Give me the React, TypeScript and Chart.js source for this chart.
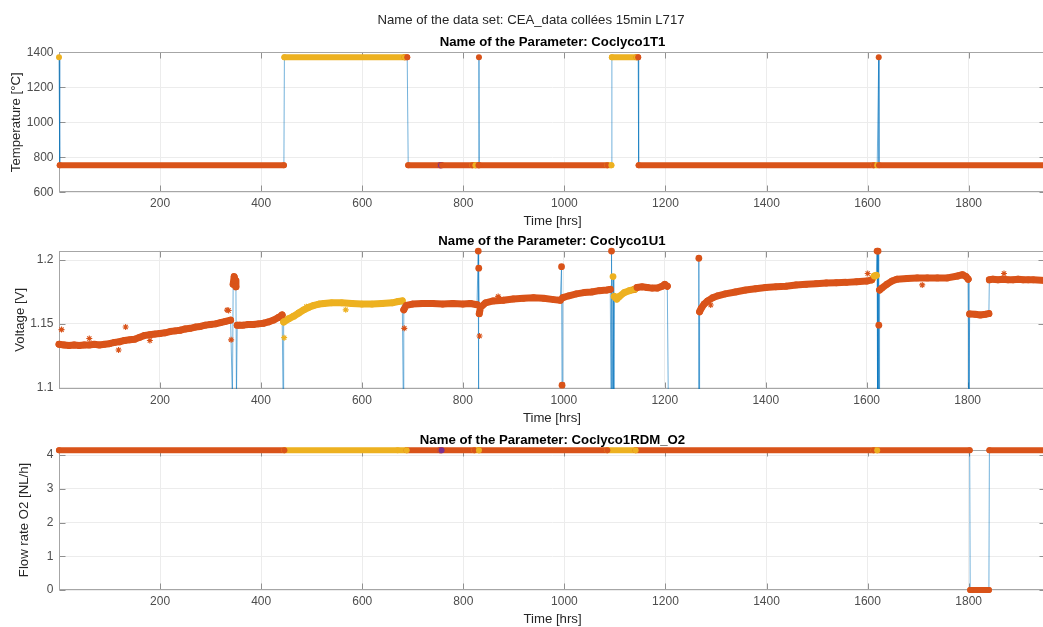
import React, { useEffect, useRef } from "react";
import { Chart, registerables } from "chart.js";

Chart.register(...registerables);

// ---------- look ----------
const FONT_FAMILY = '"Liberation Sans", Arial, Helvetica, sans-serif';
const PHASE_COLORS = ["#D95319", "#EDB120", "#7E2F8E"]; // 0 = run, 1 = hot phase, 2 = event
const TRACE_COLOR = "rgba(0, 114, 189, 0.55)";
const GRID_COLOR = "#ececec";
const BOX_COLOR = "#a6a6a6";
const TICK_MARK_COLOR = "#909090";
const TICK_TEXT_COLOR = "#4d4d4d";
const CANVAS_WIDTH = 1050;

// ---------- shared ----------
const DATASET_TITLE = "Name of the data set: CEA_data collées 15min L717";
const TIME_LABEL = "Time [hrs]";
const TIME_MIN = 0;
const TIME_MAX = 1953;
const TIME_TICKS = [200, 400, 600, 800, 1000, 1200, 1400, 1600, 1800];

// ---------- Coclyco1T1 : temperature ----------
const TEMP_TIME = [0, 1.5, 445, 446, 684, 689, 691, 754, 756, 758, 818, 824, 830, 831, 831.5, 1085, 1093, 1094, 1143, 1146, 1147, 1612, 1619, 1622, 1622.5, 1953];
const TEMP_VALUE = [1372, 755, 755, 1372, 1372, 1372, 755, 755, 755, 755, 755, 755, 755, 1372, 755, 755, 755, 1372, 1372, 1372, 755, 755, 755, 1372, 755, 755];
const TEMP_PHASE = [1, 0, 0, 1, 1, 0, 0, 0, 2, 0, 0, 1, 0, 0, 0, 0, 1, 1, 1, 0, 0, 0, 1, 0, 0, 0];
const TEMP_RANGE = [600, 1400];
const TEMP_TICKS = [600, 800, 1000, 1200, 1400];

// ---------- Coclyco1U1 : cell voltage (1.09 = reading below the visible range) ----------
const VOLT_TIME = [
  0, 10, 20, 30, 40, 50, 60, 70, 80, 90,
  100, 110, 120, 130, 140, 150, 160, 170, 180, 190,
  200, 210, 220, 230, 240, 250, 260, 270, 280, 290,
  300, 310, 320, 330, 340, 343.5, 345, 347, 349, 350.5,
  351.5, 353, 358, 365, 375, 385, 395, 405, 415, 425,
  435, 442, 444, 445, 455, 465, 475, 485, 495, 505,
  515, 525, 540, 560, 580, 600, 620, 640, 660, 672,
  680, 682, 683, 688, 700, 720, 740, 760, 780, 800,
  815, 828, 830.5, 831, 831.5, 832.5, 835, 845, 860, 880,
  900, 920, 940, 960, 980, 993, 995.5, 996.5, 998, 1010,
  1025, 1040, 1055, 1070, 1085, 1092, 1093.5, 1094.5, 1096, 1097.5,
  1099, 1100, 1105, 1110, 1120, 1130, 1140, 1145, 1155, 1165,
  1175, 1185, 1195, 1200, 1205, 1207, 1267, 1267.5, 1268, 1269,
  1272, 1278, 1285, 1295, 1305, 1320, 1340, 1360, 1380, 1400,
  1420, 1440, 1460, 1480, 1500, 1520, 1540, 1560, 1580, 1600,
  1610, 1615, 1619, 1620.5, 1621.5, 1622.5, 1623.5, 1624, 1624.5, 1625.5,
  1630, 1640, 1650, 1660, 1680, 1700, 1720, 1740, 1760, 1780,
  1790, 1797, 1801, 1802.5, 1804, 1815, 1825, 1835, 1842, 1843,
  1850, 1860, 1870, 1880, 1890, 1900, 1910, 1920, 1930, 1953,
];
const VOLT_VALUE = [
  1.134, 1.1335, 1.133, 1.1335, 1.133, 1.1335, 1.1335, 1.134, 1.1335, 1.134,
  1.1345, 1.1355, 1.136, 1.137, 1.1375, 1.138, 1.1395, 1.141, 1.1415, 1.142,
  1.1425, 1.143, 1.144, 1.1445, 1.145, 1.146, 1.1465, 1.1475, 1.148, 1.149,
  1.1495, 1.15, 1.151, 1.152, 1.153, 1.09, 1.181, 1.187, 1.184, 1.179,
  1.09, 1.149, 1.149, 1.149, 1.1495, 1.1495, 1.15, 1.1505, 1.1515, 1.153,
  1.155, 1.157, 1.09, 1.1515, 1.154, 1.156, 1.1585, 1.161, 1.163, 1.1645,
  1.1655, 1.166, 1.1665, 1.1665, 1.166, 1.1655, 1.1655, 1.166, 1.1665, 1.1675,
  1.168, 1.09, 1.161, 1.1645, 1.1655, 1.166, 1.166, 1.1655, 1.166, 1.1655,
  1.166, 1.165, 1.207, 1.09, 1.1936, 1.158, 1.163, 1.1665, 1.168, 1.1685,
  1.1695, 1.17, 1.1705, 1.17, 1.169, 1.1685, 1.1948, 1.102, 1.1705, 1.172,
  1.1735, 1.1745, 1.175, 1.176, 1.1765, 1.177, 1.09, 1.207, 1.09, 1.187,
  1.09, 1.1715, 1.1695, 1.1715, 1.1745, 1.176, 1.177, 1.1785, 1.179, 1.1785,
  1.178, 1.178, 1.1795, 1.181, 1.1795, 1.09, 1.09, 1.2014, 1.09, 1.1595,
  1.162, 1.1655, 1.168, 1.1705, 1.172, 1.1735, 1.175, 1.1765, 1.1775, 1.1785,
  1.179, 1.1795, 1.1805, 1.181, 1.1815, 1.182, 1.1822, 1.1825, 1.183, 1.1835,
  1.1845, 1.1875, 1.188, 1.207, 1.09, 1.207, 1.09, 1.149, 1.09, 1.1765,
  1.178, 1.181, 1.1835, 1.185, 1.1855, 1.186, 1.186, 1.186, 1.186, 1.1875,
  1.1885, 1.187, 1.185, 1.09, 1.1578, 1.1575, 1.157, 1.1575, 1.158, 1.1845,
  1.185, 1.1845, 1.185, 1.1845, 1.1845, 1.185, 1.1845, 1.1845, 1.1845, 1.184,
];
// time spans of the hot phase (drawn in the second colour)
const VOLT_HOT_SPANS = [[444.5, 681], [1097, 1142], [1612, 1620]];
const VOLT_OUTLIER_TIME = [5, 60, 118, 132, 180, 333, 336, 341, 446, 490, 568, 684, 833, 870, 1291, 1602, 1710, 1872];
const VOLT_OUTLIER_VALUE = [1.1455, 1.1385, 1.1295, 1.1475, 1.137, 1.1608, 1.1605, 1.1375, 1.1392, 1.1635, 1.161, 1.1465, 1.1405, 1.1715, 1.1648, 1.1895, 1.1805, 1.1895];
const VOLT_RANGE = [1.099, 1.2073];
const VOLT_TICKS = [1.1, 1.15, 1.2];

// ---------- Coclyco1RDM_O2 : oxygen flow ----------
const FLOW_TIME = [0, 446, 670, 688, 754, 757, 822, 831, 1085, 1141, 1612, 1619, 1802, 1803, 1840, 1841, 1953];
const FLOW_VALUE = [4.14, 4.14, 4.14, 4.14, 4.14, 4.14, 4.14, 4.14, 4.14, 4.14, 4.14, 4.14, 4.14, 0, 0, 4.14, 4.14];
const FLOW_PHASE = [0, 0, 1, 1, 0, 2, 0, 1, 0, 1, 0, 1, 0, 0, 0, 0, 0];
const FLOW_RANGE = [0, 4.15];
const FLOW_TICKS = [0, 1, 2, 3, 4];

const hotPhase = (t: number) => (VOLT_HOT_SPANS.some(([a, b]) => t >= a && t <= b) ? 1 : 0);

type PanelSpec = {
  title: string;
  yLabel: string;
  time: number[];
  value: number[];
  phase: number[];
  jump: number;
  outTime?: number[];
  outValue?: number[];
  outPhase?: number[];
  yRange: number[];
  yTicks: number[];
  top: number;
  height: number;
  areaTop: number;
  areaBottom: number;
  yLabelX: number;
  bandWidth: number;
  markerRadius: number;
  clip: any;
  suptitle?: string;
};

const PANELS: PanelSpec[] = [
  {
    title: "Name of the Parameter: Coclyco1T1",
    yLabel: "Temperature [°C]",
    time: TEMP_TIME,
    value: TEMP_VALUE,
    phase: TEMP_PHASE,
    jump: 50,
    yRange: TEMP_RANGE,
    yTicks: TEMP_TICKS,
    top: 0,
    height: 232,
    areaTop: 52.3,
    areaBottom: 192.3,
    yLabelX: 16.7,
    bandWidth: 6,
    markerRadius: 3,
    clip: false,
    suptitle: DATASET_TITLE,
  },
  {
    title: "Name of the Parameter: Coclyco1U1",
    yLabel: "Voltage [V]",
    time: VOLT_TIME,
    value: VOLT_VALUE,
    phase: VOLT_TIME.map(hotPhase),
    jump: 0.012,
    outTime: VOLT_OUTLIER_TIME,
    outValue: VOLT_OUTLIER_VALUE,
    outPhase: VOLT_OUTLIER_TIME.map(hotPhase),
    yRange: VOLT_RANGE,
    yTicks: VOLT_TICKS,
    top: 232,
    height: 198,
    areaTop: 18.7,
    areaBottom: 157,
    yLabelX: 20.5,
    bandWidth: 7,
    markerRadius: 3.4,
    clip: { left: 6, right: 6, top: 4, bottom: 0 },
  },
  {
    title: "Name of the Parameter: Coclyco1RDM_O2",
    yLabel: "Flow rate O2 [NL/h]",
    time: FLOW_TIME,
    value: FLOW_VALUE,
    phase: FLOW_PHASE,
    jump: 1,
    yRange: FLOW_RANGE,
    yTicks: FLOW_TICKS,
    top: 430,
    height: 197,
    areaTop: 20,
    areaBottom: 160,
    yLabelX: 24,
    bandWidth: 6,
    markerRadius: 3,
    clip: false,
  },
];

const X_AXIS_HEIGHT = 20;
const Y_AXIS_WIDTH = 59;
const TICK_LEN = 6;

function buildConfig(spec: PanelSpec): any {
  const pts = spec.time.map((t, i) => ({ x: t, y: spec.value[i] }));
  const colorAt = (i: number) => PHASE_COLORS[spec.phase[i]];
  const datasets: any[] = [
    {
      type: "line",
      data: pts,
      borderColor: TRACE_COLOR,
      borderWidth: 1,
      pointRadius: 0,
      order: 3,
      clip: spec.clip,
    },
    {
      type: "line",
      data: pts,
      borderWidth: spec.bandWidth,
      borderCapStyle: "round",
      borderJoinStyle: "round",
      pointRadius: spec.markerRadius,
      pointBorderWidth: 0,
      pointBackgroundColor: (c: any) => colorAt(c.dataIndex),
      segment: {
        borderColor: (c: any) =>
          Math.abs(spec.value[c.p1DataIndex] - spec.value[c.p0DataIndex]) > spec.jump
            ? "rgba(0,0,0,0)"
            : colorAt(c.p1DataIndex),
      },
      order: 2,
      clip: spec.clip,
    },
  ];
  if (spec.outTime && spec.outValue && spec.outPhase) {
    const op = spec.outPhase;
    datasets.push({
      type: "line",
      showLine: false,
      data: spec.outTime.map((t, i) => ({ x: t, y: spec.outValue![i] })),
      pointStyle: "star",
      pointRadius: 3,
      pointBorderWidth: 1.1,
      pointBorderColor: (c: any) => PHASE_COLORS[op[c.dataIndex]],
      pointBackgroundColor: (c: any) => PHASE_COLORS[op[c.dataIndex]],
      order: 1,
      clip: spec.clip,
    });
  }

  const tickFont = { family: FONT_FAMILY, size: 12 };

  const frame = {
    id: "frame",
    beforeDatasetsDraw(chart: any) {
      const { ctx, chartArea: a, scales } = chart;
      const L = Math.round(a.left) + 0.5;
      const R = Math.round(a.right) - 0.5;
      const T = Math.round(a.top) + 0.5;
      const B = Math.round(a.bottom) - 0.5;
      ctx.save();
      ctx.lineWidth = 1;
      ctx.strokeStyle = TICK_MARK_COLOR;
      ctx.beginPath();
      for (const v of TIME_TICKS) {
        const px = Math.round(scales.x.getPixelForValue(v)) + 0.5;
        ctx.moveTo(px, B);
        ctx.lineTo(px, B - TICK_LEN);
        ctx.moveTo(px, T);
        ctx.lineTo(px, T + TICK_LEN);
      }
      for (const v of spec.yTicks) {
        const py = Math.round(scales.y.getPixelForValue(v)) + 0.5;
        ctx.moveTo(L, py);
        ctx.lineTo(L + TICK_LEN, py);
        ctx.moveTo(R, py);
        ctx.lineTo(R - TICK_LEN, py);
      }
      ctx.stroke();
      ctx.strokeStyle = BOX_COLOR;
      ctx.strokeRect(L, T, R - L, B - T);
      ctx.restore();
    },
  };

  const labels = {
    id: "labels",
    afterDraw(chart: any) {
      const { ctx, chartArea: a } = chart;
      const cx = (a.left + a.right) / 2;
      ctx.save();
      ctx.textAlign = "center";
      ctx.textBaseline = "middle";
      if (spec.suptitle) {
        ctx.fillStyle = "#262626";
        ctx.font = `13.2px ${FONT_FAMILY}`;
        ctx.fillText(spec.suptitle, 531, 20);
      }
      ctx.fillStyle = "#000";
      ctx.font = `bold 13.2px ${FONT_FAMILY}`;
      ctx.fillText(spec.title, cx, a.top - 9.6);
      ctx.fillStyle = "#262626";
      ctx.font = `13.2px ${FONT_FAMILY}`;
      ctx.fillText(TIME_LABEL, cx, a.bottom + 29.5);
      ctx.translate(spec.yLabelX, (a.top + a.bottom) / 2);
      ctx.rotate(-Math.PI / 2);
      ctx.fillText(spec.yLabel, 0, 0);
      ctx.restore();
    },
  };

  return {
    type: "line",
    data: { datasets },
    options: {
      animation: false,
      responsive: false,
      devicePixelRatio: 1,
      events: [],
      layout: {
        padding: {
          left: 0,
          right: CANVAS_WIDTH - 1048,
          top: spec.areaTop,
          bottom: spec.height - spec.areaBottom - X_AXIS_HEIGHT,
        },
      },
      plugins: { legend: { display: false }, tooltip: { enabled: false }, title: { display: false } },
      scales: {
        x: {
          type: "linear",
          min: TIME_MIN,
          max: TIME_MAX,
          afterBuildTicks: (s: any) => {
            s.ticks = TIME_TICKS.map((v) => ({ value: v }));
          },
          afterFit: (s: any) => {
            s.height = X_AXIS_HEIGHT;
          },
          grid: { color: GRID_COLOR, drawTicks: false, lineWidth: 1 },
          border: { display: false },
          ticks: {
            font: tickFont,
            color: TICK_TEXT_COLOR,
            padding: 4,
            maxRotation: 0,
            autoSkip: false,
            callback: (v: any) => String(v),
          },
        },
        y: {
          type: "linear",
          min: spec.yRange[0],
          max: spec.yRange[1],
          afterBuildTicks: (s: any) => {
            s.ticks = spec.yTicks.map((v) => ({ value: v }));
          },
          afterFit: (s: any) => {
            s.width = Y_AXIS_WIDTH;
          },
          grid: { color: GRID_COLOR, drawTicks: false, lineWidth: 1 },
          border: { display: false },
          ticks: {
            font: tickFont,
            color: TICK_TEXT_COLOR,
            padding: 5.5,
            autoSkip: false,
            callback: (v: any) => String(v),
          },
        },
      },
    },
    plugins: [frame, labels],
  };
}

function Panel({ spec }: { spec: PanelSpec }) {
  const ref = useRef<HTMLCanvasElement>(null);
  useEffect(() => {
    if (!ref.current) return;
    const chart = new Chart(ref.current, buildConfig(spec));
    return () => chart.destroy();
  }, [spec]);
  return (
    <canvas
      ref={ref}
      width={CANVAS_WIDTH}
      height={spec.height}
      style={{ position: "absolute", left: 0, top: spec.top, width: CANVAS_WIDTH, height: spec.height }}
    />
  );
}

export default function App() {
  return (
    <div
      style={{
        position: "absolute",
        left: 0,
        top: 0,
        width: 1043,
        height: 627,
        overflow: "hidden",
        background: "#fff",
      }}
    >
      {PANELS.map((p) => (
        <Panel key={p.title} spec={p} />
      ))}
    </div>
  );
}
